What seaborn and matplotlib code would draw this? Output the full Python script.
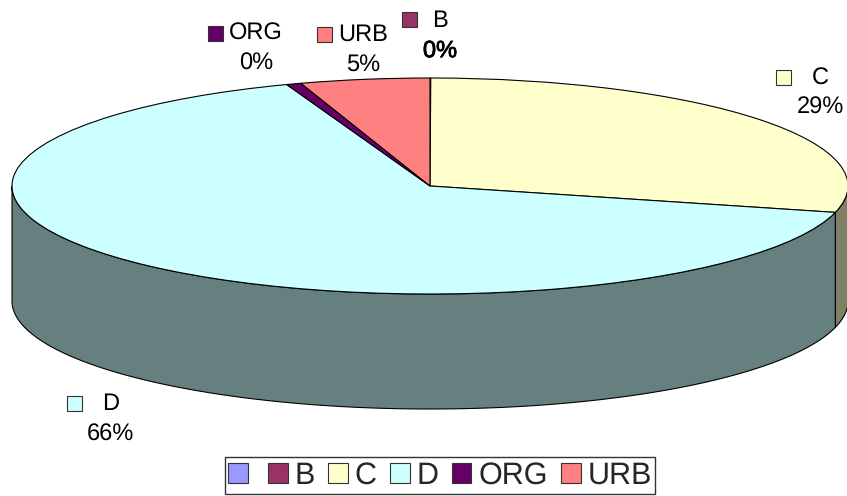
import numpy as np
import matplotlib
matplotlib.use('Agg')
import matplotlib.pyplot as plt
import matplotlib.patheffects as pe
from matplotlib.patches import Patch, Rectangle
import seaborn as sns

# data (percent, clockwise from the top)
categories = ['', 'B', 'C', 'D', 'ORG', 'URB']
values = [0.0, 0.03, 28.9, 65.5, 0.57, 5.0]
colors = ['#9999ff', '#993366', '#ffffcc', '#ccffff', '#660066', '#ff8080']
pct_labels = ['', '0%', '29%', '66%', '0%', '5%']

W, H = 847, 496
CX, CY, RX, RY, DEPTH = 430, 186, 418, 108, 115

sns.set_theme(style='white')
plt.rcParams['font.family'] = ['Liberation Sans', 'DejaVu Sans']
plt.rcParams['text.hinting'] = 'none'
palette = sns.color_palette(colors)

fig = plt.figure(figsize=(W / 100, H / 100), dpi=100, facecolor='white')
ax = fig.add_axes([0, 0, 1, 1])
wall_depth = DEPTH / RY

# side wall, only the front half of the ellipse shows
cum = np.cumsum([0] + values) / sum(values) * 360
for i, col in enumerate(palette):
    a0, a1 = max(cum[i], 90), min(cum[i + 1], 270)
    if a1 <= a0:
        continue
    a = np.radians(np.linspace(a0, a1, 200))
    xs = np.r_[np.sin(a), np.sin(a)[::-1]]
    ys = np.r_[np.cos(a), np.cos(a)[::-1] - wall_depth]
    ax.fill(xs, ys, color=tuple(c * 0.5 for c in col), ec='black', lw=0.8, zorder=1)

# top face
wedges, _ = ax.pie(values, colors=palette, startangle=90, counterclock=False,
                   wedgeprops={'edgecolor': 'black', 'linewidth': 0.8, 'zorder': 2})
ax.set_aspect('auto')
ax.set_xlim(-CX / RX, (W - CX) / RX)
ax.set_ylim((CY - H) / RY, CY / RY)
ax.axis('off')

# text layer in pixel coordinates
over = fig.add_axes([0, 0, 1, 1])
over.set_xlim(0, W)
over.set_ylim(H, 0)
over.axis('off')


def data_label(idx, sx, sy, tx, ty, px, py, bold=False):
    over.add_patch(Rectangle((sx, sy), 15, 15, fc=palette[idx], ec='#333333', lw=0.8))
    over.text(tx, ty + 2, categories[idx], fontsize=17, ha='center', va='center', color='black')
    t = over.text(px, py + 2, pct_labels[idx], fontsize=17, ha='center', va='center', color='black')
    if bold:
        t.set_path_effects([pe.withStroke(linewidth=0.6, foreground='black')])


data_label(4, 208, 26, 256, 32, 256, 62)
data_label(5, 317, 27, 363, 33, 363, 63)
data_label(1, 402, 12, 440, 19, 440, 49, bold=True)
data_label(2, 776, 70, 820, 77, 820, 106)
data_label(3, 67, 396, 111, 402, 110, 433)

handles = [Patch(fc=c, ec='#333333', lw=0.8) for c in palette]
leg = over.legend(handles, categories, ncol=6, loc='center',
                  bbox_to_anchor=(440 / W, 1 - 475.5 / H), fontsize=22, frameon=True,
                  fancybox=False, edgecolor='#333333', facecolor='white', framealpha=1,
                  handlelength=0.65, handleheight=0.65, handletextpad=0.22,
                  columnspacing=0.43, borderpad=0.12, borderaxespad=0)
leg.get_frame().set_linewidth(1.0)

fig.savefig('out.png', dpi=100)
